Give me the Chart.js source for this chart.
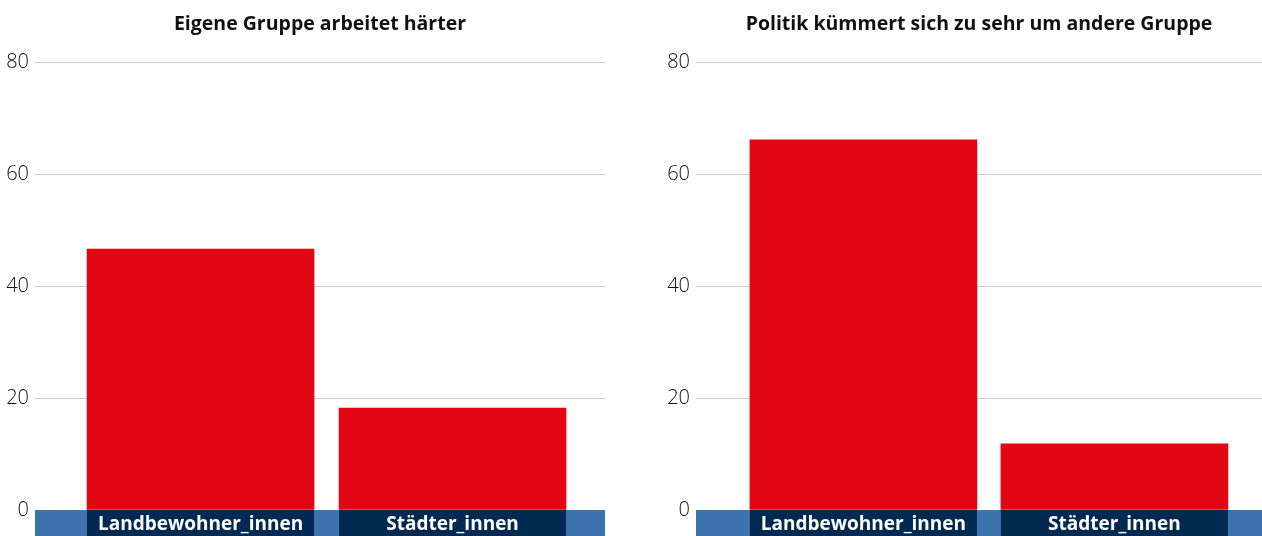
<!DOCTYPE html>
<html>
<head>
<meta charset="utf-8">
<script src="https://cdn.jsdelivr.net/npm/chart.js@4/dist/chart.umd.min.js"></script>
<style>
  html, body { margin: 0; padding: 0; background: #fff; }
  #wrap { position: relative; width: 1262px; height: 536px; overflow: hidden; }
  .panel { position: absolute; top: 0; width: 631px; height: 536px; }
</style>
</head>
<body>
<div id="wrap">
  <div class="panel" style="left:0"><canvas id="leftChart"></canvas></div>
  <div class="panel" style="left:631px"><canvas id="rightChart"></canvas></div>
</div>
<script>
// Data
const categories = ['Landbewohner_innen', 'Städter_innen'];
const titleLeft = 'Eigene Gruppe arbeitet härter';
const titleRight = 'Politik kümmert sich zu sehr um andere Gruppe';
const arbeitetHaerter = [46.6, 18.2];
const politikAndere = [66.1, 11.8];
const yTicks = [0, 20, 40, 60, 80];

const RED = '#e30613';
const BAND_BLUE = '#3e74ae';
const NAVY = '#002a52';

Chart.defaults.font.family = "'Open Sans', 'Noto Sans', sans-serif";
Chart.defaults.animation = false;

// draws the title above the plot and the label band under it
const bandPlugin = {
    id: 'band',
    afterDraw(chart, args, opts) {
        const { ctx, chartArea } = chart;
        const bottom = chart.height;
        ctx.save();
        ctx.fillStyle = BAND_BLUE;
        ctx.fillRect(chartArea.left, chartArea.bottom, chartArea.right - chartArea.left, bottom - chartArea.bottom);

        const meta = chart.getDatasetMeta(0);
        meta.data.forEach((bar, i) => {
            const w = bar.width;
            ctx.fillStyle = NAVY;
            ctx.fillRect(bar.x - w / 2, chartArea.bottom, w, bottom - chartArea.bottom);
            ctx.fillStyle = '#fff';
            ctx.font = "bold 19px 'Open Sans', 'Noto Sans', sans-serif";
            ctx.textAlign = 'center';
            ctx.textBaseline = 'middle';
            ctx.fillText(categories[i], bar.x, chartArea.bottom + (bottom - chartArea.bottom) / 2 + 2);
        });

        ctx.fillStyle = '#111';
        ctx.font = "bold 19.5px 'Open Sans', 'Noto Sans', sans-serif";
        ctx.textAlign = 'center';
        ctx.textBaseline = 'middle';
        ctx.fillText(opts.text, (chartArea.left + chartArea.right) / 2, 24);
        ctx.restore();
    }
};

const makeChart = (id, values, title, axisWidth, rightPad, xMin, xMax) => {
    const ctx = document.getElementById(id).getContext('2d');
    return new Chart(ctx, {
        type: 'bar',
        data: {
            datasets: [{
                data: values.map((v, i) => ({ x: i, y: v })),
                backgroundColor: RED,
                borderWidth: 0,
                barThickness: 227
            }]
        },
        options: {
            responsive: true,
            maintainAspectRatio: false,
            layout: { padding: { top: 62, bottom: 26, left: 0, right: rightPad } },
            plugins: {
                legend: { display: false },
                tooltip: { enabled: false },
                band: { text: title }
            },
            scales: {
                x: {
                    type: 'linear',
                    display: false,
                    offset: false,
                    min: xMin,
                    max: xMax
                },
                y: {
                    min: 0,
                    max: 80,
                    afterBuildTicks: (scale) => { scale.ticks = yTicks.map(v => ({ value: v })); },
                    afterFit: (scale) => { scale.width = axisWidth; },
                    border: { display: false },
                    grid: { color: '#cfcfcf', lineWidth: 1, drawTicks: false },
                    ticks: { padding: 6, color: '#111', font: { size: 20, weight: 300 } }
                }
            }
        },
        plugins: [bandPlugin]
    });
};

makeChart('leftChart', arbeitetHaerter, titleLeft, 35, 26, -0.657, 1.605);
makeChart('rightChart', politikAndere, titleRight, 65, 0, -0.667, 1.588);
</script>
</body>
</html>
